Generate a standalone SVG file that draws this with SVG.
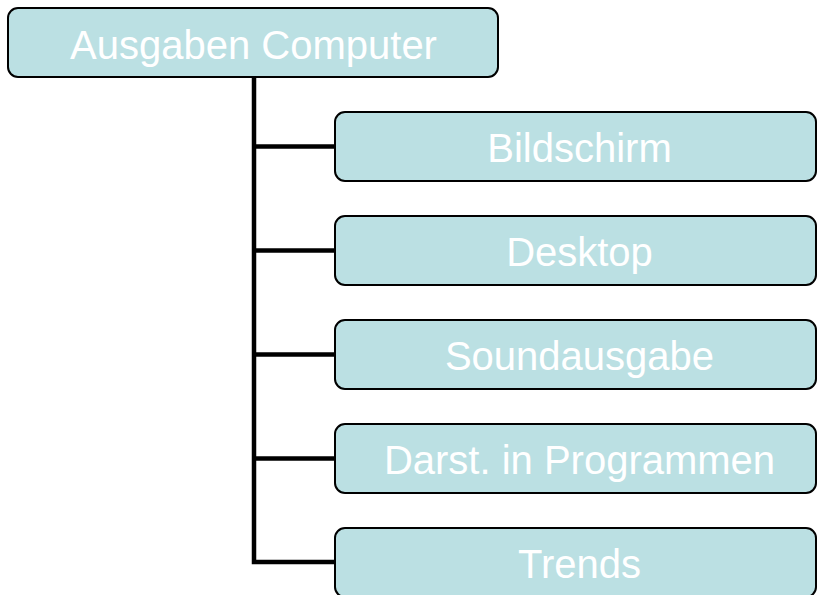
<svg xmlns="http://www.w3.org/2000/svg" width="817" height="595" viewBox="0 0 817 595">
<style>
.box{fill:#BBE0E3;stroke:#000;stroke-width:2}
.lbl{font-family:"Liberation Sans",Arial,sans-serif;font-size:40px;fill:#fff;text-anchor:middle}
.con{stroke:#000;stroke-width:4.5;fill:none}
</style>
<rect width="817" height="595" fill="#fff"/>
<g id="connectors">
<path class="con" d="M254 77 V562 H335"/>
<path class="con" d="M254 146.5 H335"/>
<path class="con" d="M254 250.5 H335"/>
<path class="con" d="M254 354.5 H335"/>
<path class="con" d="M254 458.5 H335"/>
</g>
<g id="root">
<rect class="box" x="8" y="8" width="490" height="69" rx="10"/>
<text class="lbl" x="253.5" y="59">Ausgaben Computer</text>
</g>
<g id="bildschirm">
<rect class="box" x="335" y="112" width="481" height="69" rx="10"/>
<text class="lbl" x="579.5" y="162">Bildschirm</text>
</g>
<g id="desktop">
<rect class="box" x="335" y="216" width="481" height="69" rx="10"/>
<text class="lbl" x="579.5" y="266">Desktop</text>
</g>
<g id="soundausgabe">
<rect class="box" x="335" y="320" width="481" height="69" rx="10"/>
<text class="lbl" x="579.5" y="370">Soundausgabe</text>
</g>
<g id="darst">
<rect class="box" x="335" y="424" width="481" height="69" rx="10"/>
<text class="lbl" x="579.5" y="474">Darst. in Programmen</text>
</g>
<g id="trends">
<rect class="box" x="335" y="528" width="481" height="69" rx="10"/>
<text class="lbl" x="579.5" y="578">Trends</text>
</g>
</svg>
